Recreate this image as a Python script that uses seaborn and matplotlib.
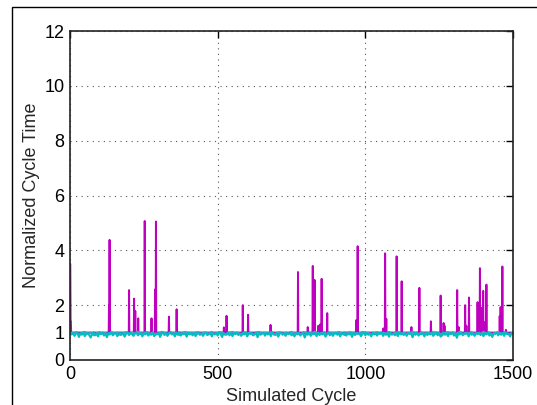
import numpy as np
import pandas as pd
import matplotlib as mpl; mpl.use("Agg")
import matplotlib.pyplot as plt
import seaborn as sns
from matplotlib.patches import Rectangle

# --- data ---
n_cycles = 1500
base_level = 1.0

# magenta spikes: cycle, value
spike_cycle = [0, 1, 2, 3, 132, 134, 200, 217, 221, 231, 253, 276, 288, 291,
               335, 361, 521, 530, 585, 603, 679, 772, 805, 822, 828, 841,
               847, 852, 871, 969, 974, 1061, 1067, 1071, 1106, 1123, 1156,
               1183, 1222, 1255, 1265, 1268, 1311, 1316, 1338, 1342, 1351,
               1380, 1385, 1388, 1392, 1399, 1407, 1410, 1455, 1458, 1464, 1476]
spike_value = [3.52, 3.5, 1.4, 1.4, 2.0, 4.38, 2.55, 2.24, 1.79, 1.52, 5.07, 1.52,
               2.57, 5.05, 1.58, 1.85, 1.19, 1.61, 2.0, 1.65, 1.28, 3.21, 1.2,
               3.43, 2.92, 1.25, 1.3, 2.96, 1.71, 1.45, 4.15, 1.15, 3.89, 1.5,
               3.78, 2.87, 1.2, 2.63, 1.41, 2.35, 1.35, 1.25, 2.55, 1.2, 2.0,
               1.25, 2.28, 2.11, 1.45, 3.35, 1.9, 2.52, 1.4, 2.75, 1.6, 1.93,
               3.41, 1.1]

# cyan series, sampled every 5 cycles
cyan_step = 5
cyan_value = [
    0.98, 0.93, 0.99, 0.88, 0.96, 1.01, 0.84, 0.97, 0.92, 1.00, 0.87, 0.95,
    0.99, 0.91, 0.82, 0.97, 1.01, 0.90, 0.96, 0.86, 0.99, 0.94, 1.00, 0.89,
    0.97, 0.83, 0.98, 0.93, 1.01, 0.90, 0.96, 0.99, 0.87, 0.94, 1.00, 0.92,
    0.98, 0.85, 0.96, 1.01, 0.91, 0.99, 0.94, 0.88, 0.97, 1.00, 0.90, 0.95,
    0.99, 0.86, 0.98, 0.93, 1.01, 0.89, 0.96, 0.92, 1.00, 0.87, 0.97, 0.94,
    0.99, 0.84, 0.95, 1.01, 0.91, 0.98, 0.88, 0.96, 1.00, 0.93, 0.97, 0.86,
    0.99, 0.92, 1.01, 0.89, 0.96, 0.94, 0.98, 0.85, 1.00, 0.93, 0.97, 0.90,
    0.99, 0.87, 0.95, 1.01, 0.92, 0.98, 0.88, 0.96, 0.99, 0.91, 0.94, 1.00,
    0.86, 0.97, 0.93, 0.99, 0.89, 1.01, 0.95, 0.84, 0.98, 0.92, 0.96, 1.00,
    0.90, 0.97, 0.87, 0.99, 0.94, 1.01, 0.91, 0.96, 0.88, 0.98, 0.93, 1.00,
    0.86, 0.97, 0.95, 0.99, 0.90, 0.94, 1.01, 0.83, 0.98, 0.92, 0.96, 1.00,
    0.89, 0.97, 0.93, 0.99, 0.87, 1.01, 0.95, 0.91, 0.98, 0.85, 0.96, 1.00,
    0.92, 0.97, 0.88, 0.99, 0.94, 1.01, 0.90, 0.96, 0.86, 0.98, 0.93, 1.00,
    0.89, 0.97, 0.95, 0.82, 0.99, 0.92, 1.01, 0.88, 0.96, 0.94, 0.98, 0.87,
    1.00, 0.91, 0.97, 0.93, 0.99, 0.85, 0.95, 1.01, 0.90, 0.98, 0.88, 0.96,
    1.00, 0.92, 0.97, 0.86, 0.99, 0.94, 1.01, 0.89, 0.96, 0.93, 0.98, 0.84,
    1.00, 0.91, 0.97, 0.95, 0.99, 0.87, 0.94, 1.01, 0.90, 0.98, 0.92, 0.96,
    0.86, 1.00, 0.93, 0.97, 0.89, 0.99, 0.95, 1.01, 0.88, 0.96, 0.92, 0.98,
    0.85, 1.00, 0.94, 0.97, 0.90, 0.99, 0.87, 1.01, 0.93, 0.96, 0.91, 0.98,
    0.88, 1.00, 0.95, 0.97, 0.83, 0.99, 0.92, 1.01, 0.89, 0.96, 0.94, 0.98,
    0.86, 1.00, 0.91, 0.97, 0.93, 0.99, 0.88, 0.95, 1.01, 0.90, 0.98, 0.85,
    0.96, 1.00, 0.92, 0.97, 0.87, 0.99, 0.94, 1.01, 0.89, 0.96, 0.81, 0.98,
    0.93, 1.00, 0.90, 0.97, 0.95, 0.99, 0.86, 1.01, 0.92, 0.96, 0.88, 0.98,
    0.94, 1.00, 0.91, 0.97, 0.87, 0.99, 0.93, 1.01, 0.89, 0.96, 0.84, 0.98,
    0.95, 1.00, 0.90, 0.97, 0.92, 0.99, 0.88, 1.01, 0.94, 0.96, 0.86, 0.98,
    0.93]

# lighter blue series underneath, sampled every 10 cycles
blue_step = 10
blue_value = [
    1.01, 0.96, 1.02, 0.92, 0.99, 1.03, 0.95, 1.00, 0.90, 0.98, 1.02, 0.96,
    0.99, 0.93, 1.03, 0.97, 1.00, 0.91, 0.99, 1.02, 0.95, 1.00, 0.97, 1.03,
    0.94, 0.99, 1.02, 0.96, 1.00, 0.92, 0.98, 1.03, 0.99, 0.95, 1.02, 0.97,
    1.00, 0.91, 0.99, 1.03, 0.96, 1.00, 0.97, 1.02, 0.93, 0.99, 1.01, 0.96,
    1.03, 0.95, 0.99, 1.02, 0.97, 0.92, 1.00, 1.03, 0.96, 0.99, 0.94, 1.02,
    0.97, 1.00, 0.90, 0.99, 1.03, 0.96, 1.00, 0.97, 1.02, 0.93, 0.99, 1.02,
    0.96, 1.00, 0.95, 1.03, 0.97, 0.99, 0.92, 1.02, 1.00, 0.96, 0.99, 1.03,
    0.95, 0.98, 1.02, 0.93, 1.00, 0.99, 0.96, 1.03, 0.97, 0.91, 1.00, 1.02,
    0.96, 0.99, 0.94, 1.03, 0.97, 1.00, 0.93, 0.99, 1.02, 0.96, 1.00, 0.97,
    1.03, 0.92, 0.99, 1.02, 0.96, 1.00, 0.95, 0.98, 1.03, 0.99, 0.93, 1.02,
    0.96, 1.00, 0.97, 1.03, 0.95, 0.99, 0.89, 1.00, 1.02, 0.96, 0.99, 0.97,
    1.03, 0.93, 1.00, 0.97, 1.02, 0.95, 0.99, 0.96, 1.03, 0.97, 1.00, 0.92,
    0.99, 1.02, 0.96, 1.00, 0.97, 0.94, 1.01]

yticks = [0, 1, 2, 4, 6, 8, 10, 12]
xticks = [0, 500, 1000, 1500]

# --- build tables ---
mag = np.full(n_cycles + 1, base_level)
mag[spike_cycle] = spike_value
df_mag = pd.DataFrame({"cycle": np.arange(n_cycles + 1), "t": mag})
df_cyan = pd.DataFrame({"cycle": np.arange(len(cyan_value)) * cyan_step, "t": cyan_value})
df_blue = pd.DataFrame({"cycle": np.arange(len(blue_value)) * blue_step, "t": blue_value})

sns.set_style("white")
plt.rcParams["font.family"] = ["Liberation Sans", "DejaVu Sans"]

fig = plt.figure(figsize=(5.37, 4.05), dpi=100)
ax = fig.add_axes([70 / 537, 45 / 405, 443 / 537, 329 / 405])

sns.lineplot(data=df_mag, x="cycle", y="t", ax=ax, color=(0.75, 0, 0.75),
             linewidth=1.4, estimator=None)
sns.lineplot(data=df_blue, x="cycle", y="t", ax=ax, color="#5b95d6",
             linewidth=1.4, estimator=None)
sns.lineplot(data=df_cyan, x="cycle", y="t", ax=ax, color=(0, 0.75, 0.75),
             linewidth=1.5, estimator=None)

ax.set_xlim(0, 1500)
ax.set_ylim(0, 12)
ax.set_xticks(xticks)
ax.set_yticks(yticks)
ax.grid(True, linestyle=(0, (1, 4)), color="#555555", linewidth=0.8)
ax.tick_params(direction="in", length=5, width=1, top=True, right=True,
               labelsize=13, colors="black", pad=4)
for s in ax.spines.values():
    s.set_color("#222222")
    s.set_linewidth(1.2)
ax.set_xlabel("Simulated Cycle", fontsize=13, labelpad=4)
ax.set_ylabel("Normalized Cycle Time", fontsize=13, labelpad=3)

# outer frame of the figure
fig.patches.append(Rectangle((12 / 537, -0.1), 1.2, (405 - 7) / 405 + 0.1,
                             transform=fig.transFigure, fill=False,
                             edgecolor="black", linewidth=1.0))

fig.savefig("out.png", dpi=100)
